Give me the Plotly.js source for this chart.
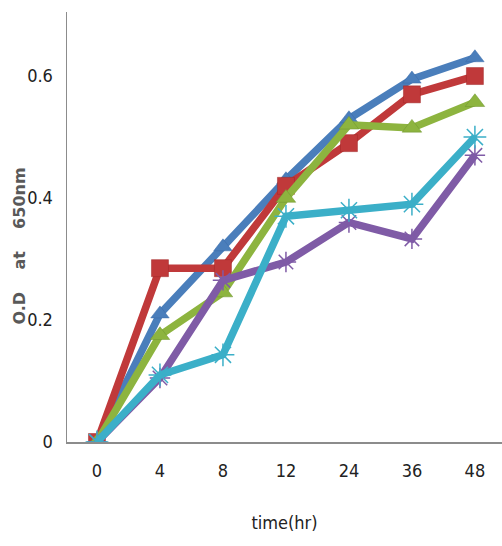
<!DOCTYPE html>
<html><head><meta charset="utf-8">
<script src="https://cdn.plot.ly/plotly-3.0.1.min.js"></script>
<style>body{margin:0;background:#fff}#c{width:502px;height:546px}</style>
</head><body><div id="c"></div>
<script>
var times = ["0","4","8","12","24","36","48"];
var blueVals   = [0, 0.21, 0.32, 0.43, 0.53, 0.595, 0.63];
var redVals    = [0, 0.285, 0.285, 0.42, 0.49, 0.57, 0.60];
var greenVals  = [0, 0.175, 0.245, 0.40, 0.52, 0.515, 0.557];
var purpleVals = [0, 0.105, 0.265, 0.295, 0.36, 0.333, 0.47];
var cyanVals   = [0, 0.11, 0.143, 0.37, 0.38, 0.39, 0.50];
var yTicks = [0, 0.2, 0.4, 0.6];
var yTickText = ["0", "0.2", "0.4", "0.6"];

function tr(y, color, sym, size, lc){
  var open = sym.indexOf('open') >= 0;
  return {x: times, y: y, type: 'scatter', mode: 'lines+markers',
    line: {color: color, width: 7.5},
    marker: {symbol: sym, size: size, color: color, line: {color: lc || color, width: open ? 1.5 : 0.5}},
    showlegend: false, hoverinfo: 'skip'};
}
var data = [
  tr(blueVals, '#4a7ebb', 'triangle-up', 16, '#3a6aa8'),
  tr(redVals, '#c0393a', 'square', 17, '#a02828'),
  tr(greenVals, '#8db43f', 'triangle-up', 17, '#6f9530'),
  tr(purpleVals, '#7f5ba6', 'asterisk-open', 17, '#7f5ba6'),
  tr(cyanVals, '#3bafc8', 'asterisk-open', 19, '#3bafc8')
];
var tickFont = {family: '"Liberation Sans Narrow", "DejaVu Sans Condensed", Arial, sans-serif', size: 18, color: '#222'};
var layout = {
  width: 502, height: 546,
  margin: {l: 67, r: 0, t: 12, b: 104},
  paper_bgcolor: '#fff', plot_bgcolor: '#fff',
  xaxis: {type: 'category', range: [-0.476, 6.43], showgrid: false, zeroline: false,
    showline: true, linecolor: '#8c8c8c', linewidth: 1.5, ticks: '',
    tickfont: tickFont, ticklabelstandoff: 12,
    title: {text: 'time(hr)', font: tickFont, standoff: 36}},
  yaxis: {range: [0, 0.705], showgrid: false, zeroline: false,
    showline: true, linecolor: '#8c8c8c', linewidth: 1.5, ticks: '',
    tickvals: yTicks, ticktext: yTickText, tickfont: tickFont, ticklabelstandoff: 9},
  annotations: [{text: 'O.D&nbsp;&nbsp;&nbsp;&nbsp;at&nbsp;&nbsp;&nbsp;&nbsp;650nm', textangle: -90, showarrow: false,
    xref: 'paper', yref: 'paper', x: -0.11, y: 0.455, xanchor: 'center', yanchor: 'middle',
    font: {family: '"DejaVu Sans", Verdana, sans-serif', size: 16, color: '#595959', weight: 'bold'}}]
};
Plotly.newPlot('c', data, layout, {displayModeBar: false, staticPlot: true});
</script></body></html>
